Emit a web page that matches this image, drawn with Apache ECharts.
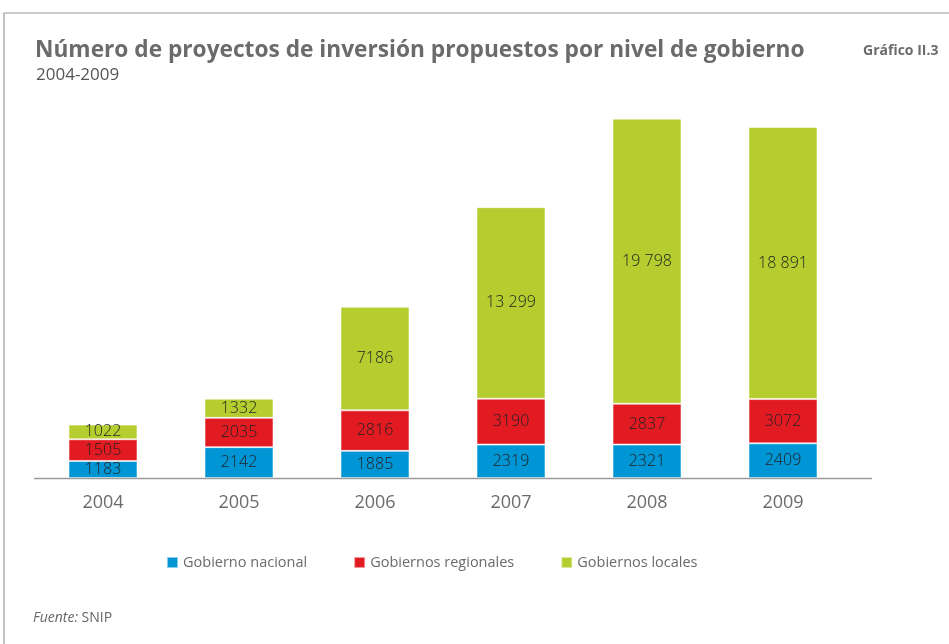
<!doctype html>
<html>
	<head>
		<meta charset="UTF-8">
		<title>Gráfico II.3</title>
		<script src="https://cdn.jsdelivr.net/npm/echarts@6/dist/echarts.min.js"></script>
		<style type="text/css">
			html, body { margin: 0; padding: 0; background: #fff; }
			#main { width: 949px; height: 644px; }
		</style>
	</head>
	<body>
		<div id="main"></div>
		<script type="text/javascript">
			// datos del gráfico
			var years = ['2004', '2005', '2006', '2007', '2008', '2009'];
			var nacional = [1183, 2142, 1885, 2319, 2321, 2409];
			var regionales = [1505, 2035, 2816, 3190, 2837, 3072];
			var locales = [1022, 1332, 7186, 13299, 19798, 18891];

			var font = '"Open Sans", "Noto Sans", sans-serif';

			// 13299 -> "13 299"
			function fmt(v) {
				var s = String(v);
				if (v >= 10000) s = s.slice(0, s.length - 3) + ' ' + s.slice(-3);
				return s;
			}

			function serie(name, data, color) {
				return {
					name: name,
					type: 'bar',
					stack: 'total',
					barWidth: 69,
					data: data,
					itemStyle: { color: color, borderColor: 'rgba(255,255,255,0.55)', borderWidth: 1 },
					label: {
						show: true,
						position: 'inside',
						color: '#222',
						fontFamily: font,
						fontSize: 16,
						fontWeight: 300,
						formatter: function (p) { return fmt(p.value); }
					}
				};
			}

			var chart = echarts.init(document.getElementById('main'));
			var option = {
				animation: false,
				backgroundColor: '#fff',
				title: [
					{
						text: 'Número de proyectos de inversión propuestos por nivel de gobierno',
						left: 30, top: 34,
						textStyle: { fontFamily: font, fontSize: 22.7, fontWeight: 'bold', color: '#6b6b6b' }
					},
					{
						text: '2004-2009',
						left: 31, top: 62,
						textStyle: { fontFamily: font, fontSize: 17, fontWeight: 'normal', color: '#555' }
					},
					{
						text: 'Gráfico II.3',
						left: 858, top: 39,
						textStyle: { fontFamily: font, fontSize: 14, fontWeight: 'bold', color: '#6b6b6b' }
					},
					{
						text: '{i|Fuente:} SNIP',
						left: 28, top: 606,
						textStyle: {
							fontFamily: font, fontSize: 14, fontWeight: 'normal', color: '#666',
							rich: { i: { fontFamily: font, fontSize: 14, fontStyle: 'italic', color: '#666' } }
						}
					}
				],
				legend: {
					left: 161, top: 550,
					itemWidth: 11, itemHeight: 11, itemGap: 46,
					icon: 'rect',
					textStyle: { fontFamily: font, fontSize: 14.5, color: '#6b6b6b' },
					data: ['Gobierno nacional', 'Gobiernos regionales', 'Gobiernos locales']
				},
				grid: { left: 35, top: 118, width: 816, bottom: 166 },
				xAxis: {
					type: 'category',
					data: years,
					axisLine: { show: false },
					axisTick: { show: false },
					axisLabel: { fontFamily: font, fontSize: 18, color: '#6b6b6b', margin: 16 }
				},
				yAxis: {
					type: 'value',
					min: 0, max: 25000,
					show: false,
					splitLine: { show: false }
				},
				graphic: [
					// marco
					{ type: 'polyline', shape: { points: [[4, 644], [4, 13], [949, 13]] }, style: { stroke: '#9a9a9a', lineWidth: 1.2, fill: null } },
					// línea base
					{ type: 'line', z: 10, shape: { x1: 34, y1: 478.5, x2: 872, y2: 478.5 }, style: { stroke: '#9a9a9a', lineWidth: 1.5 } }
				],
				series: [
					serie('Gobierno nacional', nacional, '#0096d6'),
					serie('Gobiernos regionales', regionales, '#e21b23'),
					serie('Gobiernos locales', locales, '#b5cd2f')
				]
			};
			chart.setOption(option);
		</script>
	</body>
</html>
